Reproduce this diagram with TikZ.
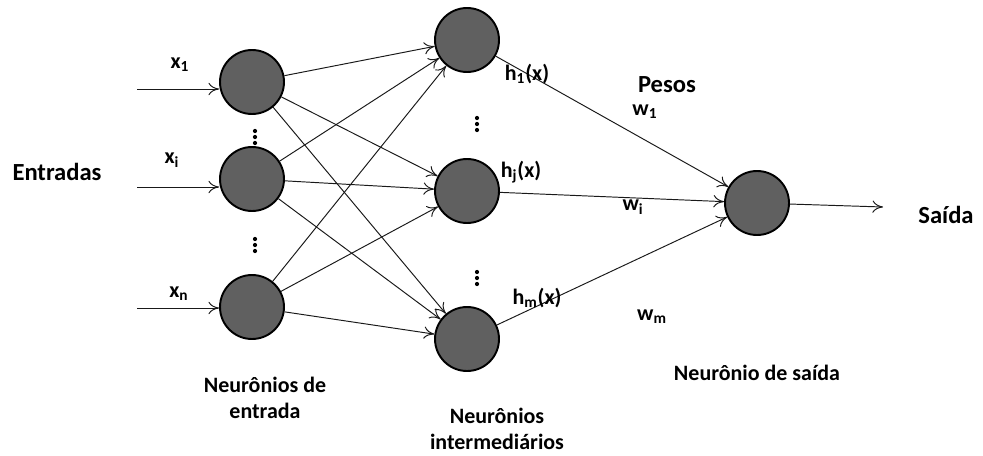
\documentclass[tikz,border=0pt]{standalone}
\usepackage{fontspec}
\setmainfont{Carlito}
\usepackage{tikz}
\usetikzlibrary{arrows.meta}
\definecolor{neurongray}{RGB}{96,96,96}
\tikzset{
    neuron/.style={circle, draw=black, line width=1.1pt, fill=neurongray,
        minimum size=1.28cm, inner sep=0pt},
    link/.style={-{To[length=6pt,width=7pt]}, line width=0.55pt, draw=black!90},
    biglbl/.style={font=\bfseries\fontsize{14}{17}\selectfont, inner sep=0pt},
    lbl/.style={font=\bfseries\fontsize{12.5}{15}\selectfont, inner sep=0pt, align=center}
}
\newcommand{\neuron}[2]{
    \node[neuron] (#1) at (#2) {};
}
\newcommand{\dotstack}[2]{
    \coordinate (#1) at (#2);
    \fill (#1) ++(0,-6) circle (1.2pt);
    \fill (#1) circle (1.2pt);
    \fill (#1) ++(0,6) circle (1.2pt);
}

\begin{document}
\begin{tikzpicture}[x=0.02cm, y=-0.02cm]
        \useasboundingbox (0,0) rectangle (983,456);
        % neurons
        \neuron{i1}{252,82}
        \neuron{i2}{252,179}
        \neuron{in}{252,307}
        \neuron{h1}{467,40}
        \neuron{hj}{467,191}
        \neuron{hm}{467,339}
        \neuron{out}{757,203}
        \dotstack{di1}{255,137}
        \dotstack{di2}{255,245}
        \dotstack{dh1}{477,124}
        \dotstack{dh2}{477,278}
        % inputs
        \coordinate (x1) at (137,89);
        \coordinate (xi) at (137,187);
        \coordinate (xn) at (137,308);
        \coordinate (y) at (883,207);
        \draw[link] (x1) -- (x1 -| i1.west);
        \draw[link] (xi) -- (xi -| i2.west);
        \draw[link] (xn) -- (xn -| in.west);
        \foreach \a in {i1,i2,in}
            \foreach \b in {h1,hj,hm}
                \draw[link] (\a) -- (\b);
        \foreach \b in {h1,hj,hm}
            \draw[link] (\b) -- (out);
        \draw[link] (out) -- (y);
        % labels
        \node[biglbl] (lent) at (57,172) {Entradas};
        \node[biglbl] (lsai) at (946,215) {Saída};
        \node[biglbl] (lpes) at (667,85) {Pesos};
        \node[lbl] (lx1) at (180,65) {x\textsubscript{1}};
        \node[lbl] (lxi) at (172,160) {x\textsubscript{i}};
        \node[lbl] (lxn) at (179,294) {x\textsubscript{n}};
        \node[lbl] (lh1) at (527,74) {h\textsubscript{1}(x)};
        \node[lbl] (lhj) at (521,172) {h\textsubscript{j}(x)};
        \node[lbl] (lhm) at (537,298) {h\textsubscript{m}(x)};
        \node[lbl] (lw1) at (645,112) {w\textsubscript{1}};
        \node[lbl] (lwi) at (633,207) {w\textsubscript{i}};
        \node[lbl] (lwm) at (652,317) {w\textsubscript{m}};
        \node[lbl] (lne) at (265,398) {Neurônios de\\entrada};
        \node[lbl] (lni) at (497,429) {Neurônios\\intermediários};
        \node[lbl] (lns) at (757,373) {Neurônio de saída};
\end{tikzpicture}
\end{document}
